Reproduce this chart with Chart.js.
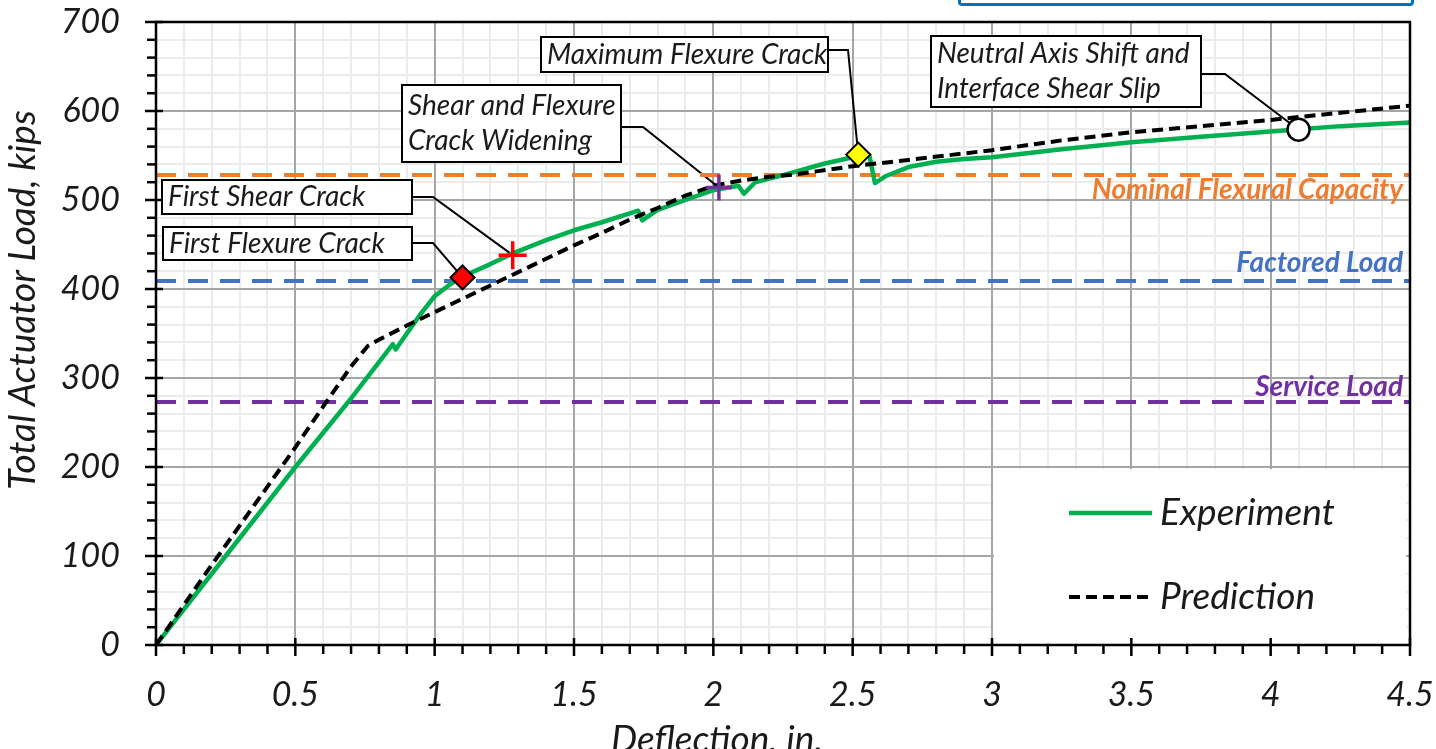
<!DOCTYPE html>
<html>
<head>
<meta charset="utf-8">
<script src="https://cdn.jsdelivr.net/npm/chart.js@4.4.1/dist/chart.umd.min.js"></script>
<style>
  html, body { margin: 0; padding: 0; background: #fff; overflow: hidden; }
  #wrap { position: relative; width: 1436px; height: 749px; }
  #topBox { position: absolute; left: 958px; top: -20px; width: 450px; height: 20px;
            border: 3px solid #0070c0; border-radius: 4px; }
</style>
</head>
<body>
<div id="wrap">
  <canvas id="chart" width="1436" height="749"></canvas>
  <div id="topBox"></div>
</div>
<script>
// ---- DATA (deflection in inches, load in kips) ----
const expX = [0, 0.1, 0.25, 0.5, 0.7, 0.85, 0.86, 0.9, 0.95, 1.0, 1.05, 1.1, 1.2, 1.28, 1.4, 1.5, 1.6, 1.7, 1.73, 1.745,
              1.8, 1.9, 2.0, 2.09, 2.11, 2.15, 2.25, 2.4, 2.5, 2.56, 2.58, 2.62, 2.7, 2.8, 2.9, 3.0, 3.25, 3.5, 3.75, 4.0, 4.25, 4.5];
const expY = [0, 40, 100, 200, 277, 338, 332, 350, 372, 392, 404, 414, 428, 440, 455, 466, 475, 485, 488, 477,
              489, 500, 511, 516, 507, 520, 528, 541, 548, 550, 519, 527, 537, 543, 546, 548, 557, 565, 571, 577, 583, 587];

const predX = [0, 0.2, 0.4, 0.5, 0.6, 0.7, 0.76, 0.8, 0.9, 1.0, 1.1, 1.2, 1.3, 1.4, 1.5, 1.6, 1.7, 1.8, 1.9, 2.0,
               2.1, 2.2, 2.3, 2.5, 2.7, 3.0, 3.25, 3.5, 3.75, 4.0, 4.25, 4.5];
const predY = [0, 90, 178, 222, 268, 313, 336, 343, 359, 374, 389, 404, 419, 434, 449, 463, 478, 491, 505, 516,
               522, 526, 529, 538, 545, 556, 567, 576, 583, 590, 598, 606];

// design load levels
const refNames = ['Nominal Flexural Capacity', 'Factored Load', 'Service Load'];
const refLoads = [528, 409, 273];
const refColors = ['#ed7d31', '#4472c4', '#7030a0'];

// observed events on the experiment curve
const eventNames = [['First Flexure Crack'], ['First Shear Crack'], ['Shear and Flexure', 'Crack Widening'],
                    ['Maximum Flexure Crack'], ['Neutral Axis Shift and', 'Interface Shear Slip']];
const eventX = [1.10, 1.28, 2.02, 2.52, 4.10];
const eventY = [413, 438, 514, 551, 579];

// axis ticks
const xTickValues = [0, 0.5, 1, 1.5, 2, 2.5, 3, 3.5, 4, 4.5];
const xTickLabels = ['0', '0.5', '1', '1.5', '2', '2.5', '3', '3.5', '4', '4.5'];
const yTickValues = [0, 100, 200, 300, 400, 500, 600, 700];
const yTickLabels = ['0', '100', '200', '300', '400', '500', '600', '700'];

// ---- LAYOUT / STYLE ----
const FONT = 'Lato';
const tickFont = { family: FONT, size: 34, style: 'italic' };
const markerStyle = [
    { style: 'rectRot', r: 12, bg: '#ff0000', border: '#000', bw: 2 },
    { style: 'cross', r: 14, bg: '#ff0000', border: '#ff0000', bw: 3.5 },
    { style: 'cross', r: 13, bg: '#7030a0', border: '#7030a0', bw: 3.5 },
    { style: 'rectRot', r: 12, bg: '#ffff00', border: '#000', bw: 2 },
    { style: 'circle', r: 11, bg: '#ffffff', border: '#000', bw: 2.5 }
];
// callout boxes in canvas pixels
const callouts = [
    { left: 163, top: 227, w: 249, h: 33, armY: 243, elbowX: 433 },
    { left: 162, top: 180, w: 250, h: 34, armY: 197, elbowX: 433 },
    { left: 402, top: 85, w: 219, h: 77, armY: 127, elbowX: 643 },
    { left: 541, top: 37, w: 287, h: 35, armY: 50, elbowX: 848 },
    { left: 931, top: 36, w: 270, h: 71, armY: 74, elbowX: 1225 }
];
const refLabelOffset = [15, -18, -15];

function near(v, list) {
    return list.findIndex(m => Math.abs(m - v) < 1e-6);
}

function xy(xs, ys) {
    return xs.map((x, i) => ({ x: x, y: ys[i] }));
}

const datasets = [];

datasets.push({
    label: 'events',
    data: xy(eventX, eventY),
    showLine: false,
    pointStyle: markerStyle.map(m => m.style),
    pointRadius: markerStyle.map(m => m.r),
    pointBackgroundColor: markerStyle.map(m => m.bg),
    pointBorderColor: markerStyle.map(m => m.border),
    pointBorderWidth: markerStyle.map(m => m.bw),
    order: 0
});
datasets.push({
    label: 'Prediction',
    data: xy(predX, predY),
    borderColor: '#000000',
    borderWidth: 4,
    borderDash: [11, 6],
    pointRadius: 0,
    tension: 0,
    order: 1
});
datasets.push({
    label: 'Experiment',
    data: xy(expX, expY),
    borderColor: '#00b050',
    borderWidth: 4.5,
    borderJoinStyle: 'round',
    pointRadius: 0,
    tension: 0,
    order: 2
});
refLoads.forEach((load, i) => {
    datasets.push({
        label: refNames[i],
        data: [{ x: 0, y: load }, { x: 4.5, y: load }],
        borderColor: refColors[i],
        borderWidth: 4,
        borderDash: [20, 12],
        pointRadius: 0,
        order: 3
    });
});

// grid redraw, legend, callouts, ticks, titles
const decorPlugin = {
    id: 'decor',
    beforeDatasetsDraw(chart) {
        const { ctx, chartArea: a, scales: { x, y } } = chart;
        ctx.save();
        // major grid on top of minor grid
        ctx.strokeStyle = '#a6a6a6';
        ctx.lineWidth = 2;
        x.ticks.forEach(t => {
            if (near(t.value, xTickValues) < 0) return;
            const px = Math.round(x.getPixelForValue(t.value));
            ctx.beginPath(); ctx.moveTo(px, a.top); ctx.lineTo(px, a.bottom); ctx.stroke();
        });
        y.ticks.forEach(t => {
            if (near(t.value, yTickValues) < 0) return;
            const py = Math.round(y.getPixelForValue(t.value));
            ctx.beginPath(); ctx.moveTo(a.left, py); ctx.lineTo(a.right, py); ctx.stroke();
        });

        // legend box
        const lx0 = x.getPixelForValue(3.0) + 2, lx1 = a.right - 4;
        const ly0 = y.getPixelForValue(200) + 2, ly1 = a.bottom - 3;
        ctx.fillStyle = '#ffffff';
        ctx.fillRect(lx0, ly0, lx1 - lx0, ly1 - ly0);
        const legendRows = [{ ds: datasets[2], y: 513 }, { ds: datasets[1], y: 597 }];
        legendRows.forEach(r => {
            ctx.strokeStyle = r.ds.borderColor;
            ctx.lineWidth = r.ds.borderWidth;
            ctx.setLineDash(r.ds.borderDash || []);
            ctx.beginPath(); ctx.moveTo(1069, r.y); ctx.lineTo(1152, r.y); ctx.stroke();
            ctx.setLineDash([]);
            ctx.fillStyle = '#1a1a1a';
            ctx.font = 'italic 37px ' + FONT;
            ctx.textAlign = 'left';
            ctx.textBaseline = 'middle';
            ctx.fillText(r.ds.label, 1160, r.y);
        });

        // callouts
        callouts.forEach((c, i) => {
            const mx = x.getPixelForValue(eventX[i]);
            const my = y.getPixelForValue(eventY[i]);
            ctx.strokeStyle = '#000';
            ctx.lineWidth = 2;
            ctx.beginPath();
            ctx.moveTo(c.left + c.w, c.armY);
            ctx.lineTo(c.elbowX, c.armY);
            ctx.lineTo(mx, my);
            ctx.stroke();
            ctx.fillStyle = '#fff';
            ctx.fillRect(c.left, c.top, c.w, c.h);
            ctx.strokeRect(c.left, c.top, c.w, c.h);
            ctx.fillStyle = '#1a1a1a';
            ctx.font = 'italic 28px ' + FONT;
            ctx.textAlign = 'left';
            ctx.textBaseline = 'middle';
            const lines = eventNames[i];
            const lh = 35;
            const y0 = c.top + c.h / 2 - (lines.length - 1) * lh / 2;
            lines.forEach((s, k) => ctx.fillText(s, c.left + 6, y0 + k * lh));
        });
        ctx.restore();
    },
    afterDatasetsDraw(chart) {
        const { ctx, chartArea: a, scales: { y } } = chart;
        ctx.save();
        ctx.font = 'italic bold 28px ' + FONT;
        ctx.textAlign = 'right';
        ctx.textBaseline = 'middle';
        refLoads.forEach((load, i) => {
            ctx.fillStyle = refColors[i];
            ctx.fillText(refNames[i], a.right - 7, y.getPixelForValue(load) + refLabelOffset[i]);
        });
        ctx.restore();
    },
    afterDraw(chart) {
        const { ctx, chartArea: a, scales: { x, y } } = chart;
        ctx.save();
        // frame
        ctx.strokeStyle = '#000';
        ctx.lineWidth = 2.5;
        ctx.strokeRect(a.left, a.top, a.right - a.left, a.bottom - a.top);
        // tick marks
        x.ticks.forEach(t => {
            const px = x.getPixelForValue(t.value);
            const major = near(t.value, xTickValues) >= 0;
            ctx.beginPath();
            ctx.moveTo(px, major ? a.bottom - 7 : a.bottom);
            ctx.lineTo(px, a.bottom + (major ? 11 : 9));
            ctx.stroke();
        });
        y.ticks.forEach(t => {
            const py = y.getPixelForValue(t.value);
            const major = near(t.value, yTickValues) >= 0;
            ctx.beginPath();
            ctx.moveTo(a.left - (major ? 11 : 9), py);
            ctx.lineTo(major ? a.left + 7 : a.left, py);
            ctx.stroke();
        });
        // axis titles
        ctx.fillStyle = '#1a1a1a';
        ctx.font = 'italic 37px ' + FONT;
        ctx.textAlign = 'center';
        ctx.textBaseline = 'alphabetic';
        ctx.fillText('Deflection, in.', 717, 752);
        ctx.translate(35, 300);
        ctx.rotate(-Math.PI / 2);
        ctx.fillText('Total Actuator Load, kips', 0, 0);
        ctx.restore();
    }
};

new Chart(document.getElementById('chart'), {
    type: 'line',
    data: { datasets: datasets },
    options: {
        responsive: false,
        animation: false,
        devicePixelRatio: 1,
        layout: { autoPadding: false, padding: { top: 22, right: 26, left: 0, bottom: 0 } },
        plugins: { legend: { display: false }, tooltip: { enabled: false } },
        scales: {
            x: {
                type: 'linear', min: 0, max: 4.5,
                afterFit: s => { s.height = 104; s.paddingLeft = 0; s.paddingRight = 0; },
                border: { display: false },
                grid: {
                    drawTicks: false,
                    lineWidth: 2,
                    color: c => near(c.tick.value, xTickValues) >= 0 ? '#a6a6a6' : '#ebebeb'
                },
                ticks: {
                    stepSize: 0.1, autoSkip: false, maxRotation: 0, padding: 30,
                    font: tickFont, color: '#1a1a1a',
                    callback: v => { const i = near(v, xTickValues); return i >= 0 ? xTickLabels[i] : ''; }
                }
            },
            y: {
                type: 'linear', min: 0, max: 700,
                afterFit: s => { s.width = 156; s.paddingTop = 0; s.paddingBottom = 0; },
                border: { display: false },
                grid: {
                    drawTicks: false,
                    lineWidth: 2,
                    color: c => near(c.tick.value, yTickValues) >= 0 ? '#a6a6a6' : '#ebebeb'
                },
                ticks: {
                    stepSize: 20, autoSkip: false, padding: 36,
                    font: tickFont, color: '#1a1a1a',
                    callback: v => { const i = near(v, yTickValues); return i >= 0 ? yTickLabels[i] : ''; }
                }
            }
        }
    },
    plugins: [decorPlugin]
});
</script>
</body>
</html>
